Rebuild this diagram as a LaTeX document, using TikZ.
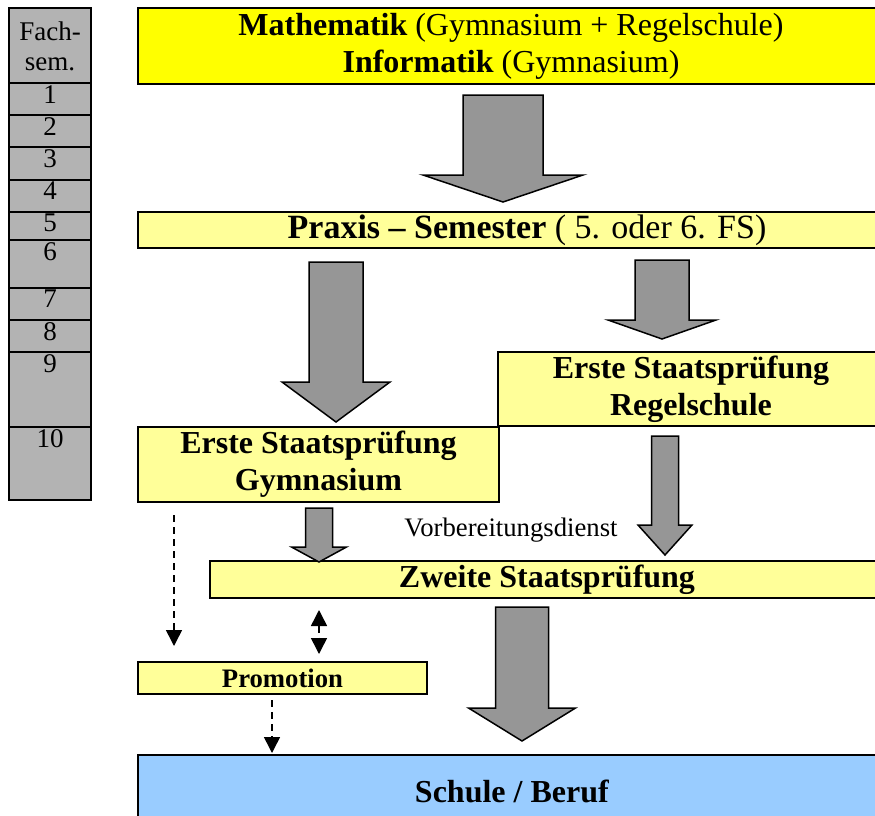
\documentclass[tikz,border=0pt]{standalone}
\usepackage{fontspec}
\setmainfont{Liberation Serif}
\usetikzlibrary{arrows.meta,calc}

\definecolor{strongyellow}{HTML}{FFFF00}
\definecolor{paleyellow}{HTML}{FFFF99}
\definecolor{paleblue}{HTML}{99CCFF}
\definecolor{cellgray}{HTML}{B3B3B3}
\definecolor{arrowgray}{HTML}{969696}

\newcommand{\boxfont}{\fontsize{32}{37}\selectfont}
\newcommand{\praxisfont}{\fontsize{34}{38}\selectfont}
\newcommand{\smallboxfont}{\fontsize{26.7}{30}\selectfont}
\newcommand{\semfont}{\fontsize{27}{30}\selectfont}

% block arrow: shaft half width, head half width, head length, top, tip
\newcommand{\fatarrow}[5]{%
  \draw[fatarrowline] let \p1 = (#4), \p2 = (#5) in
    (\x2-#1, \y1) -- (\x2+#1, \y1) -- (\x2+#1, \y2+#3) -- (\x2+#2, \y2+#3)
    -- (\x2, \y2) -- (\x2-#2, \y2+#3) -- (\x2-#1, \y2+#3) -- cycle;}

\tikzset{
  box/.style = {draw, line width=2pt, anchor=north west, inner sep=0pt,
    align=center, font=\boxfont},
  semcell/.style = {draw, line width=2pt, fill=cellgray, anchor=north west,
    inner sep=0pt, minimum width=82pt},
  semnum/.style = {anchor=north, inner sep=3pt, font=\semfont},
  fatarrowline/.style = {draw, line width=1.5pt, fill=arrowgray, line join=miter},
  dasharrow/.style = {line width=1.5pt, dash pattern=on 7pt off 5pt,
    -{Triangle[width=16pt,length=16pt]}},
  dashboth/.style = {line width=1.5pt, dash pattern=on 7pt off 5pt,
    {Triangle[width=16pt,length=16pt]}-{Triangle[width=16pt,length=16pt]}},
}

\begin{document}
\begin{tikzpicture}[x=1pt, y=-1pt]
  \useasboundingbox (0,0) rectangle (875,816);
  \clip (0,0) rectangle (875,816);

  % semester column
  \node[semcell, minimum height=76pt, align=center, font=\semfont] (semhead) at (8,7) {Fach-\\sem.};
  \foreach \t/\b/\n in {82/114/1, 114/146/2, 146/179/3, 179/211/4, 211/239/5,
                        239/287/6, 287/319/7, 319/351/8, 351/426/9, 426/499/10}
    \node[semcell, minimum height=\b-\t, label={[semnum]north:\n}] (sem\n) at (8,\t) {};

  % boxes
  \node[box, fill=strongyellow, minimum width=746pt, minimum height=76pt] (faecher) at (137,7)
    {\textbf{Mathematik} (Gymnasium + Regelschule)\\\textbf{Informatik} (Gymnasium)};
  \node[box, fill=paleyellow, minimum width=778pt, minimum height=36pt, font=\praxisfont] (praxis) at (137,211)
    {\textbf{Praxis -- Semester} ( 5. oder 6. FS)};
  \node[box, fill=paleyellow, minimum width=386pt, minimum height=74pt] (regel) at (497,351)
    {\textbf{Erste Staatsprüfung}\\\textbf{Regelschule}};
  \node[box, fill=paleyellow, minimum width=361pt, minimum height=75pt] (gymn) at (137,426)
    {\textbf{Erste Staatsprüfung}\\\textbf{Gymnasium}};
  \node[box, fill=paleyellow, minimum width=674pt, minimum height=37pt] (zweite) at (209,560)
    {\textbf{Zweite Staatsprüfung}};
  \node[box, fill=paleyellow, minimum width=289pt, minimum height=32pt, font=\smallboxfont] (prom) at (137,661)
    {\textbf{Promotion}};
  \node[box, fill=paleblue, minimum width=748pt, minimum height=72pt] (schule) at (137,754)
    {\textbf{Schule / Beruf}};
  \node[font=\smallboxfont] (vorb) at (511,530) {Vorbereitungsdienst};

  % block arrows
  \coordinate (a1top) at (503,95);  \coordinate (a1tip) at (503,202);
  \coordinate (a2top) at (336,262); \coordinate (a2tip) at (336,422);
  \coordinate (a3top) at (662,260); \coordinate (a3tip) at (662,339);
  \coordinate (a4top) at (319,508); \coordinate (a4tip) at (319,562);
  \coordinate (a5top) at (665,436); \coordinate (a5tip) at (665,555);
  \coordinate (a6top) at (522,607); \coordinate (a6tip) at (522,741);
  \fatarrow{40pt}{80pt}{27pt}{a1top}{a1tip}
  \fatarrow{27pt}{54pt}{40pt}{a2top}{a2tip}
  \fatarrow{27pt}{54pt}{19pt}{a3top}{a3tip}
  \fatarrow{13.5pt}{27.5pt}{15pt}{a4top}{a4tip}
  \fatarrow{13.5pt}{27pt}{30pt}{a5top}{a5tip}
  \fatarrow{26.5pt}{53.5pt}{33pt}{a6top}{a6tip}

  % dashed connectors
  \draw[dasharrow] ([xshift=37pt,yshift=-12pt]gymn.south west) -- ([xshift=37pt,yshift=15pt]prom.north west);
  \draw[dashboth] ([xshift=110pt,yshift=-11pt]zweite.south west) -- ([xshift=182pt,yshift=7pt]prom.north west);
  \draw[dasharrow] ([xshift=135pt,yshift=-5pt]prom.south west) -- ([xshift=135pt,yshift=1pt]schule.north west);
\end{tikzpicture}
\end{document}
